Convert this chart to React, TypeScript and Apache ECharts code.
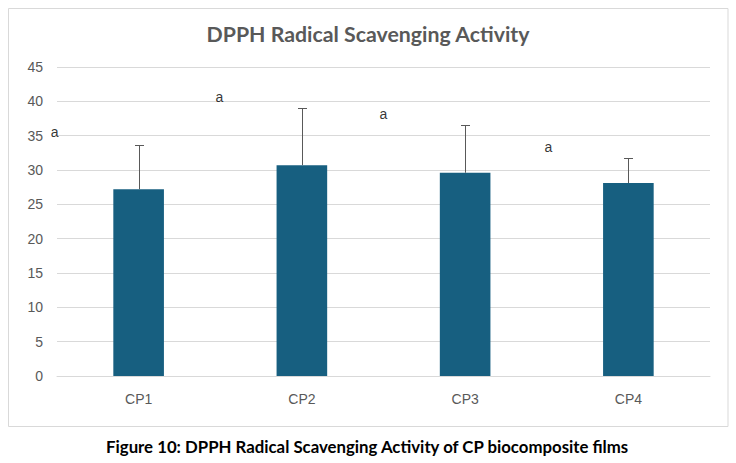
import React, { useEffect, useRef } from "react";
import * as echarts from "echarts";

const categories = ["CP1", "CP2", "CP3", "CP4"];
const means = [27.2, 30.7, 29.6, 28.1];
const upperErrors = [33.6, 39.0, 36.5, 31.7];
const letterX = [-0.015, 0.995, 2.0, 3.01];
const letterY = [35.5, 40.6, 38.2, 33.3];
const letters = ["a", "a", "a", "a"];
const yTicks = { min: 0, max: 45, interval: 5 };

export default function App() {
  const ref = useRef<HTMLDivElement>(null);
  useEffect(() => {
    document.body.style.margin = "0";
    const chart = echarts.init(ref.current!, null, { renderer: "svg" });
    const grid = { left: 57, right: 26, top: 67, bottom: 87 };
    chart.setOption({
      animation: false,
      backgroundColor: "#ffffff",
      title: {
        text: "DPPH Radical Scavenging Activity",
        left: "center",
        top: 18,
        textStyle: { fontFamily: "Lato", fontWeight: "bold", fontSize: 21.3, color: "#595959" },
      },
      graphic: [
        {
          type: "rect",
          shape: { x: 8.5, y: 8.5, width: 719.5, height: 418 },
          style: { fill: "none", stroke: "#d9d9d9", lineWidth: 1 },
          z: -1,
        },
        {
          type: "text",
          left: "center",
          top: 438,
          style: {
            text: "Figure 10: DPPH Radical Scavenging Activity of CP biocomposite films",
            font: "bold 16.8px Lato",
            fill: "#000000",
          },
        },
      ],
      grid,
      xAxis: [
        {
          type: "category",
          data: categories,
          axisLine: { lineStyle: { color: "#d9d9d9" } },
          axisTick: { show: false },
          axisLabel: { color: "#595959", fontSize: 14, fontFamily: "Arial, Liberation Sans", margin: 16 },
        },
        {
          type: "value",
          min: 0,
          max: 4,
          show: false,
        },
      ],
      yAxis: {
        type: "value",
        min: yTicks.min,
        max: yTicks.max,
        interval: yTicks.interval,
        axisLine: { show: false },
        axisTick: { show: false },
        splitLine: { lineStyle: { color: "#d9d9d9" } },
        axisLabel: { color: "#595959", fontSize: 14, fontFamily: "Arial, Liberation Sans", margin: 14 },
      },
      series: [
        {
          type: "bar",
          data: means,
          barWidth: "31%",
          itemStyle: { color: "#175F80" },
          z: 2,
        },
        {
          type: "custom",
          data: categories.map((_, i) => [i, means[i], upperErrors[i]]),
          encode: { x: 0, y: [1, 2] },
          z: 3,
          renderItem: (params: any, api: any) => {
            const i = api.value(0);
            const p0 = api.coord([i, api.value(1)]);
            const p1 = api.coord([i, api.value(2)]);
            const x = Math.round(p0[0]) + 0.5;
            const yt = Math.round(p1[1]) + 0.5;
            const style = { stroke: "#595959", lineWidth: 1 };
            return {
              type: "group",
              children: [
                { type: "line", shape: { x1: x, y1: p0[1], x2: x, y2: yt }, style },
                { type: "line", shape: { x1: x - 4.5, y1: yt, x2: x + 4.5, y2: yt }, style },
              ],
            };
          },
        },
        {
          type: "scatter",
          xAxisIndex: 1,
          clip: false,
          data: letterX.map((x, i) => [x, letterY[i], letters[i]]),
          symbolSize: 0,
          label: {
            show: true,
            position: "inside",
            formatter: (p: any) => p.value[2],
            color: "#000000",
            fontSize: 14,
            fontFamily: "Arial, Liberation Sans",
          },
          z: 4,
        },
      ],
    });
    return () => chart.dispose();
  }, []);
  return <div ref={ref} style={{ width: 736, height: 463 }} />;
}
